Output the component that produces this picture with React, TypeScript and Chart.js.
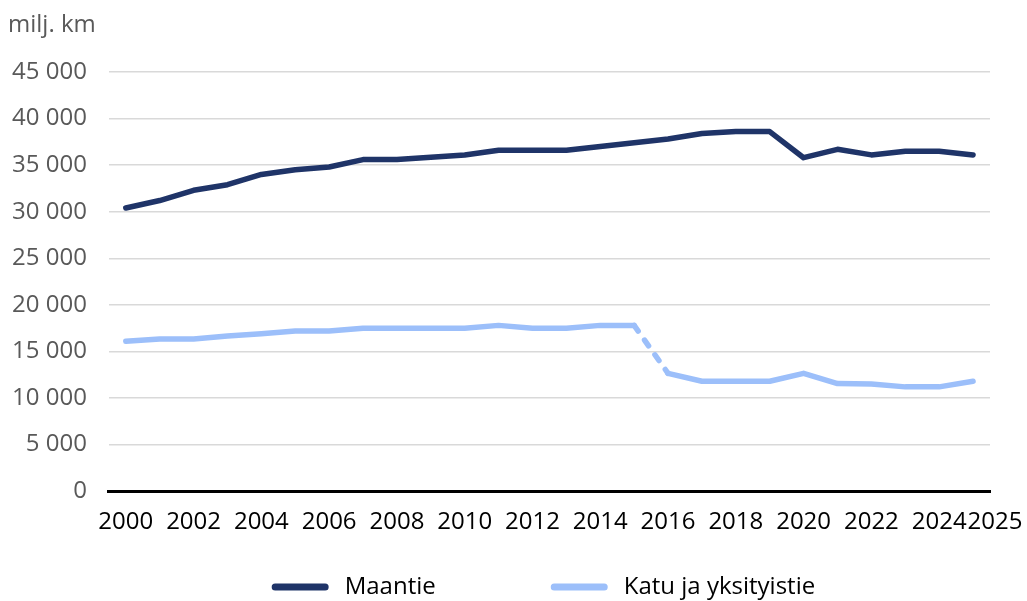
import React, { useEffect, useRef } from "react";
import { Chart, registerables } from "chart.js";

Chart.register(...registerables);

const years: string[] = [
  "2000", "2001", "2002", "2003", "2004", "2005", "2006", "2007", "2008", "2009",
  "2010", "2011", "2012", "2013", "2014", "2015", "2016", "2017", "2018", "2019",
  "2020", "2021", "2022", "2023", "2024", "2025",
];

const maantie: number[] = [
  30400, 31200, 32300, 32900, 34000, 34500, 34800, 35600, 35600, 35850,
  36100, 36600, 36600, 36600, 37000, 37400, 37800, 38400, 38600, 38600,
  35800, 36700, 36100, 36500, 36500, 36100,
];

const katu: number[] = [
  16100, 16350, 16350, 16650, 16900, 17200, 17200, 17500, 17500, 17500,
  17500, 17800, 17500, 17500, 17800, 17800, 12650, 11800, 11800, 11800,
  12650, 11550, 11500, 11200, 11200, 11800,
];

const xTickLabels: string[] = [
  "2000", "2002", "2004", "2006", "2008", "2010", "2012",
  "2014", "2016", "2018", "2020", "2022", "2024",
];
const lastTickLabel = "2025";

const seriesNames: string[] = ["Maantie", "Katu ja yksityistie"];
const unitLabel = "milj. km";

const DARK = "#1f3468";
const LIGHT = "#9cbffa";
const FONT = "'Open Sans', 'Noto Sans', sans-serif";

function fmt(v: number): string {
  if (v < 1000) return String(v);
  const th = Math.floor(v / 1000);
  const rest = String(v % 1000).padStart(3, "0");
  return `${th} ${rest}`;
}

const extrasPlugin = {
  id: "extras",
  afterDraw(chart: any) {
    const ctx = chart.ctx as CanvasRenderingContext2D;
    const area = chart.chartArea;
    const xScale = chart.scales.x;
    ctx.save();
    // unit label
    ctx.font = `24px ${FONT}`;
    ctx.fillStyle = "#595959";
    ctx.textAlign = "left";
    ctx.textBaseline = "alphabetic";
    ctx.fillText(unitLabel, 8, 32);

    // shifted last tick label
    let y = area.bottom + 17 + 14.4;
    try {
      const items = xScale.getLabelItems();
      if (items && items.length) {
        const it = items[0];
        y = it.options.translation[1] + (it.textOffset || 0);
      }
    } catch (e) {}
    ctx.font = `24px ${FONT}`;
    ctx.fillStyle = "#000000";
    ctx.textAlign = "center";
    ctx.textBaseline = "middle";
    ctx.fillText(lastTickLabel, xScale.getPixelForValue(years.length - 1) + 22, y);

    // legend
    const lineW = 57;
    const lineH = 7;
    const gapText = 16;
    const itemGap = 115;
    ctx.font = `24px ${FONT}`;
    const datasets = chart.data.datasets;
    const widths = datasets.map((d: any) => ctx.measureText(d.label).width);
    let total = 0;
    widths.forEach((w: number, i: number) => {
      total += lineW + gapText + w + (i < widths.length - 1 ? itemGap : 0);
    });
    let x = (area.left + area.right) / 2 - total / 2 - 6;
    const ly = 587;
    datasets.forEach((d: any, i: number) => {
      ctx.strokeStyle = d.borderColor;
      ctx.lineWidth = lineH;
      ctx.lineCap = "round";
      ctx.beginPath();
      ctx.moveTo(x + lineH / 2, ly);
      ctx.lineTo(x + lineW - lineH / 2, ly);
      ctx.stroke();
      ctx.fillStyle = "#000000";
      ctx.textAlign = "left";
      ctx.textBaseline = "middle";
      ctx.fillText(d.label, x + lineW + gapText, ly);
      x += lineW + gapText + widths[i] + itemGap;
    });
    ctx.restore();
  },
};

export default function App() {
  const ref = useRef<HTMLCanvasElement | null>(null);

  useEffect(() => {
    if (!ref.current) return;
    const chart = new Chart(ref.current, {
      type: "line",
      data: {
        labels: years,
        datasets: [
          {
            label: seriesNames[0],
            data: maantie,
            borderColor: DARK,
            backgroundColor: DARK,
            borderWidth: 5.5,
            borderCapStyle: "round",
            borderJoinStyle: "round",
            pointRadius: 0,
            tension: 0,
          },
          {
            label: seriesNames[1],
            data: katu,
            borderColor: LIGHT,
            backgroundColor: LIGHT,
            borderWidth: 5.5,
            borderCapStyle: "round",
            borderJoinStyle: "round",
            pointRadius: 0,
            tension: 0,
            segment: {
              borderDash: (c: any) => (c.p0DataIndex === 15 ? [7, 11] : undefined),
            },
          },
        ],
      },
      options: {
        responsive: false,
        animation: false,
        devicePixelRatio: 1,
        layout: { padding: { left: -10, right: 37, top: 72, bottom: 47 } },
        plugins: {
          legend: { display: false },
          title: { display: false },
          tooltip: { enabled: false },
        },
        scales: {
          x: {
            type: "category",
            offset: true,
            grid: { display: false, drawTicks: false },
            border: { display: true, color: "#000000", width: 3 },
            ticks: {
              autoSkip: false,
              maxRotation: 0,
              minRotation: 0,
              padding: 17,
              color: "#000000",
              font: { family: FONT, size: 24 },
              callback: (_v: any, index: number) => {
                const l = years[index];
                return xTickLabels.includes(l) ? l : "";
              },
            },
          },
          y: {
            min: 0,
            max: 45000,
            grid: { color: "#d9d9d9", lineWidth: 1.5, drawTicks: false },
            border: { display: false },
            ticks: {
              stepSize: 5000,
              padding: 22,
              color: "#595959",
              font: { family: FONT, size: 24 },
              callback: (v: any) => fmt(Number(v)),
            },
          },
        },
      },
      plugins: [extrasPlugin],
    });
    return () => chart.destroy();
  }, []);

  return (
    <div style={{ position: "fixed", left: 0, top: 0, width: 1027, height: 601, background: "#ffffff" }}>
      <canvas ref={ref} width={1027} height={601} style={{ display: "block" }} />
    </div>
  );
}
